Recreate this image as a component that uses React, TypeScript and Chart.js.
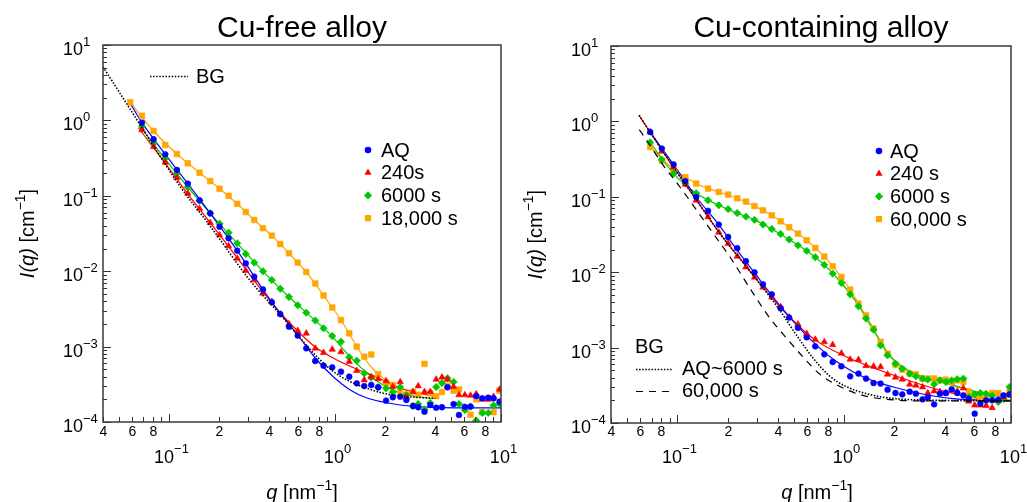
import React, { useEffect, useRef } from "react";
import { Chart, registerables } from "chart.js";

Chart.register(...registerables);

const FONT = '"Liberation Sans", Arial, Helvetica, sans-serif';

// ---------------- data ----------------
// shared q grid [nm^-1]
const Q = [0.0584, 0.0687, 0.0807, 0.0949, 0.1116, 0.1297, 0.1527, 0.177, 0.2015, 0.2284, 0.2576, 0.29, 0.326, 0.368, 0.416, 0.468, 0.528, 0.596, 0.671, 0.76, 0.853, 0.962, 1.086, 1.218, 1.352, 1.5, 1.653, 1.82, 2.03, 2.23, 2.47, 2.69, 2.95, 3.17, 3.46, 3.75, 4.07, 4.41, 4.76, 5.18, 5.58, 6.06, 6.55, 7.09, 7.71, 8.38, 9.02, 9.8];

// Cu-free alloy, measured I(q) [cm^-1]
const LEFT_AQ = [null, 0.932, 0.562, 0.355, 0.22, 0.145, 0.0872, 0.0586, 0.0389, 0.0273, 0.0187, 0.0127, 0.00845, 0.00572, 0.00388, 0.0027, 0.00184, 0.0014, 0.00095, 0.000644, 0.000558, 0.000531, 0.000465, 0.000399, 0.000326, 0.0003, 0.00031, 0.000289, 0.000192, 0.000213, 0.000217, 0.000196, 0.000163, 0.000157, 0.000137, 0.000168, 0.000155, 0.000157, 0.000289, 0.000173, 0.000124, 0.000159, 0.00016, 0.000221, 0.000206, 0.00021, 0.000206, 0.000186];
const LEFT_240 = [null, 0.746, 0.448, 0.278, 0.174, 0.108, 0.0674, 0.044, 0.0302, 0.0216, 0.0148, 0.0102, 0.00764, 0.00509, 0.00394, 0.0027, 0.00199, 0.00163, 0.0015, 0.00095, 0.00083, 0.00092, 0.000848, 0.00063, 0.000479, 0.00036, 0.000395, 0.000372, 0.00035, 0.000294, 0.000339, 0.000215, 0.000252, 0.0003, 0.000252, 0.000252, 0.000368, 0.000392, 0.000368, 0.000294, 0.000228, 0.000228, 0.000225, 0.000235, 0.0002, 0.0002, 0.000217, 0.000271];
const LEFT_6000 = [null, 0.825, 0.497, 0.314, 0.199, 0.131, 0.0859, 0.0586, 0.0427, 0.0324, 0.0234, 0.0169, 0.013, 0.00997, 0.00764, 0.00584, 0.00455, 0.00354, 0.00282, 0.00222, 0.00175, 0.00138, 0.00116, 0.000721, 0.00065, 0.000442, 0.000389, 0.000289, 0.00028, 0.00025, 0.000289, 0.000228, 0.000163, 0.000173, 0.000147, 0.000179, 0.000291, 0.000329, 0.00038, 0.000339, 0.000173, 0.000144, 0.00016, 0.000105, 0.000132, 0.000132, 0.000166, 0.000175];
const LEFT_18000 = [1.74, 1.15, 0.724, 0.472, 0.358, 0.27, 0.2025, 0.157, 0.124, 0.1, 0.0783, 0.061, 0.0478, 0.0372, 0.0296, 0.0229, 0.0173, 0.013, 0.00976, 0.00687, 0.00476, 0.0033, 0.00225, 0.0015, 0.001, 0.000735, 0.000786, 0.000433, 0.000329, 0.00031, 0.00026, 0.00023, 0.00025, 0.00023, 0.00059, 0.00024, 0.00022, 0.00025, 0.0003, 0.00026, 0.00027, 0.00015, 0.000125, 0.0002, 0.000135, 0.000205, 0.000135, 0.00026];

// Cu-free alloy, fitted curves
const LEFT_FIT_AQ_Q = [0.0584, 0.0687, 0.0949, 0.1297, 0.177, 0.2576, 0.368, 0.468, 0.596, 0.778, 0.98, 1.235, 1.557, 1.96, 2.47, 3.91, 6.17, 10];
const LEFT_FIT_AQ_I = [1.675, 0.932, 0.355, 0.1447, 0.0586, 0.0187, 0.00572, 0.00275, 0.001425, 0.000664, 0.000395, 0.000266, 0.000208, 0.000184, 0.000168, 0.000156, 0.000154, 0.000154];
const LEFT_FIT_240_Q = [0.0655, 0.094, 0.1288, 0.177, 0.2576, 0.368, 0.468, 0.646, 0.778, 1.027, 1.356, 1.789, 2.47, 4.02];
const LEFT_FIT_240_I = [0.793, 0.278, 0.108, 0.044, 0.01497, 0.0053, 0.00279, 0.001353, 0.00095, 0.000664, 0.0005, 0.000392, 0.00028, 0.000218];
const LEFT_FIT_6000_Q = [0.0671, 0.094, 0.1297, 0.177, 0.2576, 0.368, 0.528, 0.76, 0.936, 1.18, 1.485, 1.873, 2.36, 2.97, 3.85];
const LEFT_FIT_6000_I = [0.825, 0.3143, 0.1308, 0.0586, 0.0234, 0.00997, 0.00455, 0.00222, 0.00145, 0.000815, 0.000489, 0.000326, 0.000252, 0.000221, 0.000205];
const LEFT_FIT_18000_Q = [0.0584, 0.0807, 0.1116, 0.1527, 0.2015, 0.2576, 0.326, 0.416, 0.528, 0.671, 0.853, 1.086, 1.352, 1.63, 1.873, 2.36, 2.97, 3.85];
const LEFT_FIT_18000_I = [1.74, 0.724, 0.358, 0.2025, 0.1242, 0.0783, 0.0478, 0.0296, 0.01728, 0.00976, 0.00476, 0.002253, 0.001003, 0.000553, 0.000407, 0.000296, 0.000252, 0.000225];
const LEFT_BG_Q = [0.04, 0.0671, 0.1169, 0.177, 0.306, 0.49, 0.6175, 0.778, 0.98, 1.235, 1.557, 1.96, 2.47, 4.02];
const LEFT_BG_I = [5.15, 0.869, 0.132, 0.0398, 0.00764, 0.00237, 0.001288, 0.000735, 0.000465, 0.000342, 0.00028, 0.00024, 0.000221, 0.000206];

// Cu-containing alloy, measured I(q)
const RIGHT_AQ = [null, 0.724, 0.436, 0.268, 0.161, 0.0994, 0.0652, 0.0428, 0.0293, 0.0208, 0.014, 0.00997, 0.00691, 0.00509, 0.00332, 0.0025, 0.00183, 0.00137, 0.00104, 0.000815, 0.000644, 0.000565, 0.000416, 0.000452, 0.000388, 0.000339, 0.000333, 0.000277, 0.00025, 0.00024, 0.00026, 0.000245, 0.000206, 0.000221, 0.000177, 0.000245, 0.00025, 0.00028, 0.00025, 0.000233, 0.00021, 0.000133, 0.000181, 0.0002, 0.0002, 0.000204, 0.000233, 0.00024];
const RIGHT_240 = [null, 0.724, 0.401, 0.246, 0.1465, 0.0899, 0.054, 0.0338, 0.024, 0.01625, 0.0117, 0.00856, 0.0063, 0.00465, 0.00348, 0.00252, 0.00204, 0.00153, 0.00128, 0.00119, 0.00109, 0.00084, 0.000699, 0.000693, 0.000574, 0.000565, 0.000556, 0.000442, 0.000404, 0.00038, 0.000326, 0.000316, 0.0003, 0.00025, 0.000265, 0.00026, 0.00025, 0.000271, 0.000265, 0.00029, 0.000194, 0.000172, 0.000172, 0.00017, 0.000159, 0.0002, 0.00022, 0.00024];
const RIGHT_6000 = [null, 0.525, 0.31, 0.203, 0.1497, 0.1113, 0.0899, 0.0772, 0.0687, 0.0608, 0.0546, 0.0494, 0.0429, 0.0374, 0.0321, 0.0271, 0.0227, 0.0192, 0.0158, 0.0125, 0.00958, 0.00719, 0.00509, 0.00353, 0.00243, 0.00173, 0.00107, 0.00079, 0.000613, 0.000526, 0.000452, 0.000416, 0.000388, 0.000376, 0.000326, 0.000368, 0.00035, 0.000368, 0.00038, 0.000388, 0.000221, 0.00024, 0.00025, 0.000245, 0.00023, 0.00019, 0.000208, 0.0003];
const RIGHT_60000 = [null, 0.4575, 0.302, 0.2316, 0.1814, 0.1497, 0.1285, 0.1158, 0.107, 0.0955, 0.0864, 0.0753, 0.0662, 0.0568, 0.0473, 0.0394, 0.0325, 0.0265, 0.0209, 0.0161, 0.012, 0.00864, 0.00588, 0.00383, 0.00268, 0.00179, 0.00119, 0.000833, 0.000595, 0.000511, 0.000452, 0.000442, 0.000388, 0.000388, 0.00039, 0.000368, 0.000376, 0.000347, 0.000368, 0.00035, 0.00026, 0.000233, 0.000211, 0.000225, 0.00025, 0.00025, 0.000225, 0.000258];

// Cu-containing alloy, fitted curves
const RIGHT_FIT_AQ_Q = [0.0685, 0.0949, 0.1297, 0.177, 0.2284, 0.2852, 0.3758, 0.4953, 0.653, 0.86, 1.134, 1.495, 1.97, 2.596, 3.42, 4.51, 7.15, 10];
const RIGHT_FIT_AQ_I = [0.724, 0.268, 0.0994, 0.0428, 0.0195, 0.0103, 0.00465, 0.00223, 0.00118, 0.000699, 0.000475, 0.00036, 0.0003, 0.000258, 0.000228, 0.000211, 0.0002, 0.000196];
const RIGHT_FIT_240_Q = [0.0589, 0.0685, 0.0945, 0.1305, 0.18, 0.2603, 0.4123, 0.653, 1.035, 1.639, 2.596, 4.118, 6.52, 10];
const RIGHT_FIT_240_I = [1.205, 0.724, 0.2485, 0.0899, 0.0325, 0.01172, 0.003455, 0.001316, 0.00075, 0.0005, 0.00035, 0.000258, 0.000211, 0.0002];
const RIGHT_FIT_6000_Q = [0.0687, 0.0949, 0.1297, 0.177, 0.2284, 0.29, 0.368, 0.468, 0.596, 0.76, 0.962, 1.218, 1.352, 1.5, 1.653, 1.82, 2.03, 2.23, 2.69, 3.46, 4.31, 6.52, 10];
const RIGHT_FIT_6000_I = [0.525, 0.203, 0.1113, 0.0772, 0.0608, 0.0494, 0.0374, 0.0271, 0.0192, 0.0125, 0.00719, 0.00364, 0.00245, 0.0017, 0.00118, 0.00084, 0.000648, 0.000548, 0.000442, 0.000372, 0.000326, 0.000252, 0.000219];
const RIGHT_FIT_60000_Q = [0.0687, 0.0949, 0.1297, 0.177, 0.2284, 0.29, 0.368, 0.468, 0.596, 0.76, 0.962, 1.218, 1.352, 1.5, 1.653, 1.82, 2.03, 2.23, 2.69, 3.46, 4.31, 6.52, 10];
const RIGHT_FIT_60000_I = [0.4575, 0.2316, 0.1497, 0.1158, 0.0955, 0.0753, 0.0568, 0.0394, 0.0265, 0.0161, 0.00864, 0.00387, 0.00264, 0.00178, 0.00121, 0.000867, 0.000658, 0.000556, 0.000449, 0.000372, 0.000326, 0.000252, 0.000219];
const RIGHT_BG1_Q = [0.0589, 0.0685, 0.0945, 0.1305, 0.18, 0.2603, 0.4123, 0.519, 0.653, 0.822, 1.035, 1.302, 1.639, 2.161, 3.753, 10];
const RIGHT_BG1_I = [1.205, 0.724, 0.2485, 0.0899, 0.0325, 0.01172, 0.0031, 0.00145, 0.00072, 0.000416, 0.000302, 0.000252, 0.000223, 0.000208, 0.0002, 0.000197];
const RIGHT_BG2_Q = [0.0591, 0.0655, 0.0823, 0.1037, 0.1305, 0.1642, 0.2067, 0.2852, 0.359, 0.452, 0.5687, 0.716, 0.902, 1.134, 1.428, 1.883, 2.848, 10];
const RIGHT_BG2_I = [0.778, 0.5615, 0.2618, 0.1349, 0.0662, 0.0325, 0.0159, 0.0052, 0.00245, 0.001328, 0.000744, 0.000442, 0.000321, 0.000255, 0.000221, 0.000204, 0.000196, 0.000196];

const X_MIN = 0.04;
const X_MAX = 10;
const Y_MIN = 1e-4;
const Y_MAX = 10;

const LEFT_LEGEND = ["AQ", "240s", "6000 s", "18,000 s"];
const RIGHT_LEGEND = ["AQ", "240 s", "6000 s", "60,000 s"];

// ---------------- styles ----------------
type Marker = "circle" | "triangle" | "rectRot" | "rect";
const STYLES: { color: string; marker: Marker; r: number }[] = [
  { color: "#0000ff", marker: "circle", r: 2.9 },
  { color: "#ff0000", marker: "triangle", r: 3.7 },
  { color: "#00c800", marker: "rectRot", r: 3.7 },
  { color: "#ffa500", marker: "rect", r: 4.0 },
];
const DOTTED = [1.5, 1.6];
const DASHED = [7, 6];

type Seg = { t: string; size: number; italic?: boolean; raise?: number };

function drawRich(ctx: CanvasRenderingContext2D, segs: Seg[], x: number, y: number, align: "left" | "center" | "right") {
  ctx.save();
  ctx.textBaseline = "alphabetic";
  ctx.textAlign = "left";
  const fontOf = (s: Seg) => `${s.italic ? "italic " : ""}${s.size}px ${FONT}`;
  let total = 0;
  const widths = segs.map((s) => {
    ctx.font = fontOf(s);
    const w = ctx.measureText(s.t).width;
    total += w;
    return w;
  });
  let cx = align === "left" ? x : align === "center" ? x - total / 2 : x - total;
  segs.forEach((s, i) => {
    ctx.font = fontOf(s);
    ctx.fillText(s.t, cx, y - (s.raise || 0));
    cx += widths[i];
  });
  ctx.restore();
}

function drawMarker(ctx: CanvasRenderingContext2D, m: Marker, x: number, y: number, r: number, color: string) {
  ctx.save();
  ctx.fillStyle = color;
  ctx.beginPath();
  if (m === "circle") ctx.arc(x, y, r, 0, Math.PI * 2);
  else if (m === "triangle") {
    ctx.moveTo(x, y - r);
    ctx.lineTo(x + r * 0.866, y + r * 0.5);
    ctx.lineTo(x - r * 0.866, y + r * 0.5);
    ctx.closePath();
  } else if (m === "rectRot") {
    ctx.moveTo(x, y - r);
    ctx.lineTo(x + r, y);
    ctx.lineTo(x, y + r);
    ctx.lineTo(x - r, y);
    ctx.closePath();
  } else {
    const s = r * Math.SQRT1_2;
    ctx.rect(x - s, y - s, 2 * s, 2 * s);
  }
  ctx.fill();
  ctx.restore();
}

const expStr = (d: number) => (d < 0 ? "\u2212" + -d : String(d));

interface PanelCfg {
  width: number;
  padding: { left: number; right: number; top: number; bottom: number };
  title: string;
  titleDx: number;
  xLabelDx: number;
  series: { vals: (number | null)[]; fitQ: number[]; fitI: number[] }[];
  bgs: { q: number[]; I: number[]; dash: number[] }[];
  legend: string[];
  legendDx: number;
  legendTextDx: number;
  side: "left" | "right";
}

function decorPlugin(p: PanelCfg) {
  return {
    id: "decor",
    afterDraw(chart: any) {
      const ctx: CanvasRenderingContext2D = chart.ctx;
      const a = chart.chartArea;
      const xs = chart.scales.x;
      const ys = chart.scales.y;
      ctx.save();
      // ticks x
      ctx.strokeStyle = "#333";
      ctx.fillStyle = "#000";
      ctx.lineWidth = 1;
      for (let d = -2; d <= 1; d++) {
        for (let m = 1; m <= 9; m++) {
          const v = m * Math.pow(10, d);
          if (v < X_MIN * 0.999 || v > X_MAX * 1.001) continue;
          const px = Math.round(xs.getPixelForValue(v)) + 0.5;
          const len = m === 1 ? 8 : 5;
          ctx.beginPath();
          ctx.moveTo(px, a.bottom);
          ctx.lineTo(px, a.bottom - len);
          ctx.stroke();
          if (m === 1) {
            drawRich(ctx, [{ t: "10", size: 18 }, { t: expStr(d), size: 13, raise: 10 }], px + 2, 463, "center");
          } else if (m % 2 === 0) {
            ctx.font = `14px ${FONT}`;
            ctx.textAlign = "center";
            ctx.textBaseline = "middle";
            ctx.fillText(String(m), px, 432);
          }
        }
      }
      // ticks y
      for (let d = -4; d <= 1; d++) {
        for (let m = 1; m <= 9; m++) {
          const v = m * Math.pow(10, d);
          if (v < Y_MIN * 0.999 || v > Y_MAX * 1.001) continue;
          const py = Math.round(ys.getPixelForValue(v)) + 0.5;
          const len = m === 1 ? 8 : 4;
          ctx.beginPath();
          ctx.moveTo(a.left, py);
          ctx.lineTo(a.left + len, py);
          ctx.stroke();
          if (m === 1) {
            drawRich(ctx, [{ t: "10", size: 18 }, { t: expStr(d), size: 13, raise: 9 }], a.left - 40, py + 9, "left");
          }
        }
      }
      // frame
      ctx.strokeStyle = "#3a3a3a";
      ctx.lineWidth = 1.5;
      ctx.strokeRect(a.left, a.top, a.right - a.left, a.bottom - a.top);
      // title
      ctx.fillStyle = "#000";
      ctx.font = `30px ${FONT}`;
      ctx.textAlign = "center";
      ctx.textBaseline = "alphabetic";
      ctx.fillText(p.title, (a.left + a.right) / 2 + p.titleDx, 37);
      // x label
      drawRich(
        ctx,
        [
          { t: "q", size: 20, italic: true },
          { t: " [nm", size: 20 },
          { t: "\u22121", size: 14, raise: 9 },
          { t: "]", size: 20 },
        ],
        (a.left + a.right) / 2 + p.xLabelDx,
        499,
        "center"
      );
      // y label
      ctx.save();
      ctx.translate(a.left - 69, (a.top + a.bottom) / 2);
      ctx.rotate(-Math.PI / 2);
      drawRich(
        ctx,
        [
          { t: "I(q)", size: 20, italic: true },
          { t: " [cm", size: 20 },
          { t: "\u22121", size: 14, raise: 9 },
          { t: "]", size: 20 },
        ],
        0,
        0,
        "center"
      );
      ctx.restore();
      // series legend
      const lx = a.left + p.legendDx;
      const ly0 = p.side === "left" ? 150 : 151;
      p.legend.forEach((lab, i) => {
        const y = ly0 + i * 22.7;
        const st = STYLES[i];
        drawMarker(ctx, st.marker, lx, y, st.r + 0.4, st.color);
        ctx.fillStyle = "#000";
        ctx.font = `20px ${FONT}`;
        ctx.textAlign = "left";
        ctx.textBaseline = "middle";
        ctx.fillText(lab, lx + p.legendTextDx, y + 1);
      });
      // background legend
      ctx.strokeStyle = "#000";
      ctx.lineWidth = 1.5;
      ctx.fillStyle = "#000";
      ctx.font = `20px ${FONT}`;
      ctx.textAlign = "left";
      ctx.textBaseline = "middle";
      if (p.side === "left") {
        ctx.setLineDash(DOTTED);
        ctx.beginPath();
        ctx.moveTo(a.left + 47, 76.5);
        ctx.lineTo(a.left + 85, 76.5);
        ctx.stroke();
        ctx.fillText("BG", a.left + 93, 77);
      } else {
        ctx.fillText("BG", a.left + 24, 347);
        ctx.setLineDash(DOTTED);
        ctx.beginPath();
        ctx.moveTo(a.left + 25, 369.5);
        ctx.lineTo(a.left + 62, 369.5);
        ctx.stroke();
        ctx.lineWidth = 1.2;
        ctx.setLineDash(DASHED);
        ctx.beginPath();
        ctx.moveTo(a.left + 25, 391.5);
        ctx.lineTo(a.left + 62, 391.5);
        ctx.stroke();
        ctx.setLineDash([]);
        ctx.fillText("AQ~6000 s", a.left + 71, 369);
        ctx.fillText("60,000 s", a.left + 71, 391);
      }
      ctx.restore();
    },
  };
}

function buildConfig(p: PanelCfg): any {
  const datasets: any[] = [];
  p.series.forEach((s, i) => {
    const st = STYLES[i];
    datasets.push({
      label: "fit" + i,
      data: s.fitQ.map((q, k) => ({ x: q, y: s.fitI[k] })),
      showLine: true,
      borderColor: st.color,
      borderWidth: 1.2,
      pointRadius: 0,
      cubicInterpolationMode: "monotone",
      order: 3,
    });
    datasets.push({
      label: "pts" + i,
      data: Q.map((q, k) => ({ x: q, y: s.vals[k] })).filter((d) => d.y != null),
      showLine: false,
      pointStyle: st.marker,
      pointRadius: st.r,
      backgroundColor: st.color,
      borderColor: st.color,
      borderWidth: 0.6,
      order: 2,
    });
  });
  p.bgs.forEach((b, i) => {
    datasets.push({
      label: "bg" + i,
      data: b.q.map((q, k) => ({ x: q, y: b.I[k] })),
      showLine: true,
      borderColor: "#000",
      borderWidth: b.dash === DOTTED ? 1.6 : 1.2,
      borderDash: b.dash,
      pointRadius: 0,
      cubicInterpolationMode: "monotone",
      order: 1,
    });
  });
  return {
    type: "scatter",
    data: { datasets },
    options: {
      animation: false,
      responsive: false,
      maintainAspectRatio: false,
      events: [],
      layout: { padding: p.padding },
      scales: {
        x: { type: "logarithmic", min: X_MIN, max: X_MAX, display: false },
        y: { type: "logarithmic", min: Y_MIN, max: Y_MAX, display: false },
      },
      plugins: { legend: { display: false }, tooltip: { enabled: false }, title: { display: false } },
    },
    plugins: [decorPlugin(p)],
  };
}

const LEFT_PANEL: PanelCfg = {
  width: 540,
  padding: { left: 103, right: 39, top: 45, bottom: 80 },
  title: "Cu-free alloy",
  titleDx: 0,
  xLabelDx: 0,
  series: [
    { vals: LEFT_AQ, fitQ: LEFT_FIT_AQ_Q, fitI: LEFT_FIT_AQ_I },
    { vals: LEFT_240, fitQ: LEFT_FIT_240_Q, fitI: LEFT_FIT_240_I },
    { vals: LEFT_6000, fitQ: LEFT_FIT_6000_Q, fitI: LEFT_FIT_6000_I },
    { vals: LEFT_18000, fitQ: LEFT_FIT_18000_Q, fitI: LEFT_FIT_18000_I },
  ],
  bgs: [{ q: LEFT_BG_Q, I: LEFT_BG_I, dash: DOTTED }],
  legend: LEFT_LEGEND,
  legendDx: 265,
  legendTextDx: 13,
  side: "left",
};

const RIGHT_PANEL: PanelCfg = {
  width: 514,
  padding: { left: 98, right: 16, top: 46, bottom: 79 },
  title: "Cu-containing alloy",
  titleDx: 10,
  xLabelDx: 6,
  series: [
    { vals: RIGHT_AQ, fitQ: RIGHT_FIT_AQ_Q, fitI: RIGHT_FIT_AQ_I },
    { vals: RIGHT_240, fitQ: RIGHT_FIT_240_Q, fitI: RIGHT_FIT_240_I },
    { vals: RIGHT_6000, fitQ: RIGHT_FIT_6000_Q, fitI: RIGHT_FIT_6000_I },
    { vals: RIGHT_60000, fitQ: RIGHT_FIT_60000_Q, fitI: RIGHT_FIT_60000_I },
  ],
  bgs: [
    { q: RIGHT_BG1_Q, I: RIGHT_BG1_I, dash: DOTTED },
    { q: RIGHT_BG2_Q, I: RIGHT_BG2_I, dash: DASHED },
  ],
  legend: RIGHT_LEGEND,
  legendDx: 268,
  legendTextDx: 11,
  side: "right",
};

function Panel({ cfg, left }: { cfg: PanelCfg; left: number }) {
  const ref = useRef<HTMLCanvasElement>(null);
  useEffect(() => {
    const chart = new Chart(ref.current as HTMLCanvasElement, buildConfig(cfg));
    return () => chart.destroy();
  }, [cfg]);
  return (
    <canvas
      ref={ref}
      width={cfg.width}
      height={502}
      style={{ position: "absolute", left, top: 0, width: cfg.width, height: 502, display: "block" }}
    />
  );
}

export default function App() {
  return (
    <div style={{ position: "fixed", left: 0, top: 0, width: 1027, height: 502, background: "#fff", overflow: "hidden" }}>
      <Panel cfg={LEFT_PANEL} left={0} />
      <Panel cfg={RIGHT_PANEL} left={513} />
    </div>
  );
}
